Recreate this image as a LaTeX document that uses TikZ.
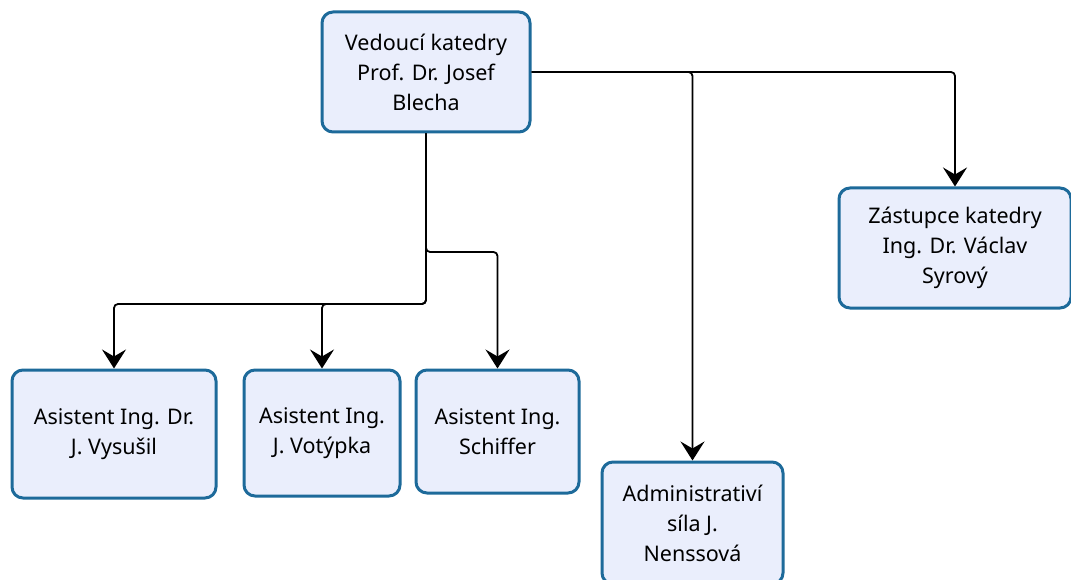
\documentclass[tikz,border=0pt]{standalone}
\usepackage{fontspec}
\setmainfont{Noto Sans}
\usetikzlibrary{arrows.meta}
\definecolor{boxfill}{HTML}{EAEEFC}
\definecolor{boxline}{HTML}{1D6A9A}
\tikzset{
  orgbox/.style={draw=boxline, line width=3pt, fill=boxfill, rounded corners=11pt,
    inner sep=0pt, align=center, font=\fontsize{21.5}{30}\selectfont},
  arr/.style={draw=black, line width=1.8pt, rounded corners=4pt,
    -{Stealth[length=19pt, width=24pt, inset=7pt]}},
}
\begin{document}
\begin{tikzpicture}[x=1pt, y=-1pt]
\useasboundingbox (0,0) rectangle (1071,580);
\clip (0,0) rectangle (1071,580);
\node[orgbox, minimum width=208pt, minimum height=120pt] (top) at (426,72)
  {Vedoucí katedry\\Prof. Dr. Josef\\Blecha};
\node[orgbox, minimum width=232pt, minimum height=120pt] (zast) at (955,248)
  {Zástupce katedry\\Ing. Dr. Václav\\Syrový};
\node[orgbox, minimum width=181pt, minimum height=122pt] (adm) at (692.5,523)
  {Administrativí\\síla J.\\Nenssová};
\node[orgbox, minimum width=204pt, minimum height=128pt] (a1) at (114,434)
  {Asistent Ing. Dr.\\J. Vysušil};
\node[orgbox, minimum width=156pt, minimum height=126pt] (a2) at (322,433)
  {Asistent Ing.\\J. Votýpka};
\node[orgbox, minimum width=163pt, minimum height=123pt] (a3) at (497.5,431.5)
  {Asistent Ing.\\Schiffer};
\coordinate (hlow) at (0,304);
\coordinate (hhigh) at (0,252);
\draw[arr] (top.east) -| (zast.north);
\draw[arr] (top.east) -| (adm.north);
\draw[arr] (top.south) -- (top.south |- hlow) -| (a1.north);
\draw[arr] (top.south) -- (top.south |- hlow) -| (a2.north);
\draw[arr] (top.south) -- (top.south |- hhigh) -| (a3.north);
\end{tikzpicture}
\end{document}
